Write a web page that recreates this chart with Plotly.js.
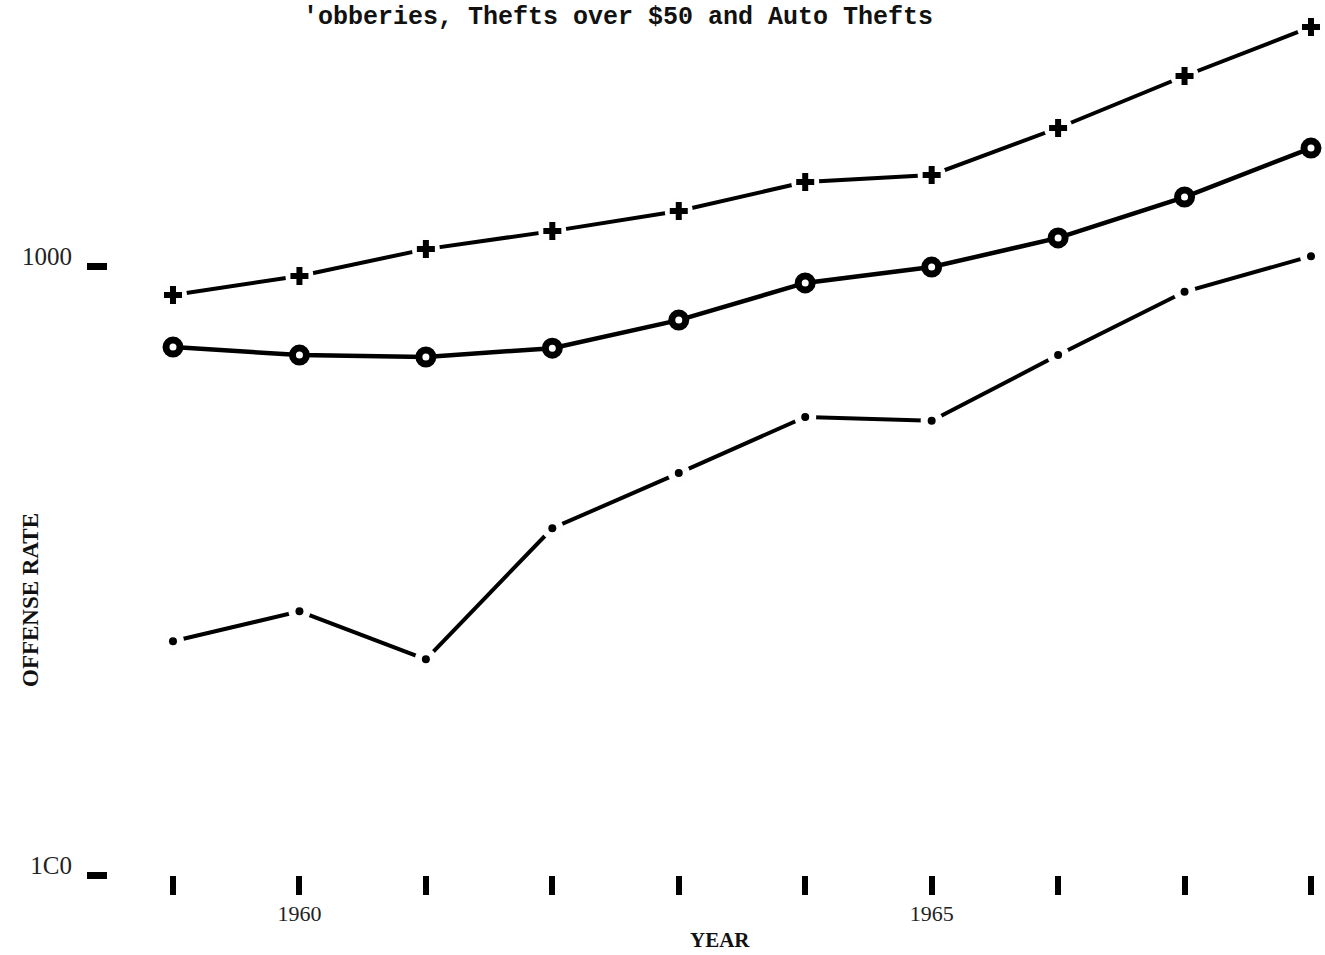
<!DOCTYPE html>
<html>
<head>
<meta charset="utf-8">
<script src="https://cdn.plot.ly/plotly-3.0.1.min.js"></script>
<style>html,body{margin:0;padding:0;background:#fff;}#chart{width:1325px;height:955px;}</style>
</head>
<body>
<div id="chart"></div>
<script>
// Data
const years = [1959, 1960, 1961, 1962, 1963, 1964, 1965, 1966, 1967, 1968];
const plusSeries = [896, 963, 1066, 1141, 1231, 1374, 1411, 1685, 2051, 2469];
const circleSeries = [736, 714, 709, 733, 815, 938, 996, 1112, 1298, 1562];
const dashDotSeries = [242, 271, 226, 371, 457, 565, 557, 714, 907, 1038];
const xTickVals = years;
const xTickText = ['', '1960', '', '', '', '', '1965', '', '', ''];
const yTickVals = [100, 1000];
const yTickText = ['1C0', '1000'];
const titleText = "'obberies, Thefts over $50 and Auto Thefts";
const xTitle = 'YEAR';
const yTitle = 'OFFENSE RATE';

const GAP = 'rgb(254,254,254)';
const traces = [
  // plus series: line with near-white gap discs, then crosses
  {x: years, y: plusSeries, mode: 'lines+markers', line: {color: '#000', width: 4},
   marker: {symbol: 'circle', size: 28, color: GAP}},
  {x: years, y: plusSeries, mode: 'markers', marker: {symbol: 'cross', size: 15, color: '#000'}},
  // circle series
  {x: years, y: circleSeries, mode: 'lines+markers', line: {color: '#000', width: 4.5},
   marker: {symbol: 'circle', size: 14, color: '#fff', line: {color: '#000', width: 7}}},
  // dash-dot series: line with near-white gap discs, then dots
  {x: years, y: dashDotSeries, mode: 'lines+markers', line: {color: '#000', width: 4},
   marker: {symbol: 'circle', size: 22, color: GAP}},
  {x: years, y: dashDotSeries, mode: 'markers', marker: {symbol: 'circle', size: 8, color: '#000'}}
];

const layout = {
  width: 1325, height: 955,
  paper_bgcolor: '#fff', plot_bgcolor: '#fff',
  showlegend: false,
  margin: {l: 108, r: 2, t: 5, b: 80},
  title: {text: titleText, x: 618/1325, xref: 'container', xanchor: 'center', y: 1 - 15/955, yref: 'container', yanchor: 'middle',
          font: {family: 'Liberation Mono, monospace', size: 25, weight: 'bold', color: '#111'}},
  xaxis: {range: [1958.486, 1968.095], showgrid: false, zeroline: false, showline: false,
          tickmode: 'array', tickvals: xTickVals, ticktext: xTickText,
          ticks: 'outside', ticklen: 19, tickwidth: 6, tickcolor: '#000', ticklabelstandoff: 0,
          tickfont: {family: 'Liberation Serif, serif', size: 22, color: '#222'}},
  yaxis: {type: 'log', range: [2, 2 + 870/609], showgrid: false, zeroline: false, showline: false,
          tickmode: 'array', tickvals: yTickVals, ticktext: yTickText,
          ticks: 'outside', ticklen: 20, tickwidth: 7, tickcolor: '#000',
          ticklabelstandoff: 10, ticklabelshift: -10,
          tickfont: {family: 'Liberation Serif, serif', size: 25, color: '#222'}},
  annotations: [
    {text: '<b>' + xTitle + '</b>', xref: 'paper', yref: 'paper', x: (720-108)/1215, y: (875-940)/870,
     xanchor: 'center', yanchor: 'middle', showarrow: false,
     font: {family: 'Liberation Serif, serif', size: 21, color: '#111'}},
    {text: '<b>' + yTitle + '</b>', xref: 'paper', yref: 'paper', x: (30-108)/1215, y: (875-600)/870,
     xanchor: 'center', yanchor: 'middle', textangle: -90, showarrow: false,
     font: {family: 'Liberation Serif, serif', size: 23, color: '#111'}}
  ]
};

Plotly.newPlot('chart', traces, layout, {displayModeBar: false, staticPlot: true});
</script>
</body>
</html>
